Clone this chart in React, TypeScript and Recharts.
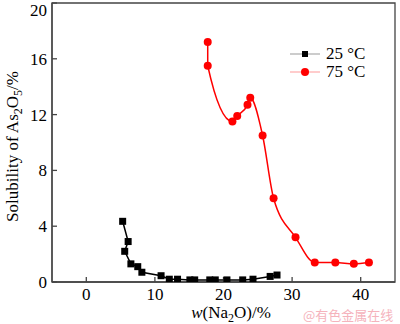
import React from 'react';
import { ComposedChart, Line, XAxis, YAxis, ReferenceArea } from 'recharts';

// 25 °C series
const naO25 = [5.3, 6.1, 5.6, 6.5, 7.5, 8.1, 10.9, 12.1, 13.3, 15.1, 15.8, 18.0, 18.8, 20.5, 22.8, 24.3, 26.8, 27.8];
const sol25 = [4.35, 2.9, 2.2, 1.3, 1.1, 0.7, 0.45, 0.2, 0.2, 0.15, 0.15, 0.15, 0.15, 0.15, 0.15, 0.2, 0.4, 0.5];
// 75 °C series
const naO75 = [17.7, 17.7, 21.3, 22.0, 23.5, 23.9, 25.7, 27.3, 30.5, 33.3, 36.3, 39.0, 41.2];
const sol75 = [17.2, 15.5, 11.5, 11.9, 12.7, 13.2, 10.5, 6.0, 3.2, 1.4, 1.4, 1.3, 1.4];

const xTicks = [0, 10, 20, 30, 40];
const yTicks = [0, 4, 8, 12, 16, 20];
const seriesNames = ['25 °C', '75 °C'];
const watermark = '@有色金属在线';

const data25 = naO25.map((x, i) => ({ x, y: sol25[i] }));
const data75 = naO75.map((x, i) => ({ x, y: sol75[i] }));

const SERIF = '"Liberation Serif", "DejaVu Serif", serif';
const AXIS = '#444';

const YTitle = (props: any) => {
  const vb = props.viewBox || { x: 0, y: 3, width: 52, height: 279 };
  const cy = vb.y + vb.height / 2 + 4;
  return (
    <text
      transform={`translate(18, ${cy}) rotate(-90)`}
      textAnchor="middle"
      fontFamily={SERIF}
      fontSize={17}
      fill="#000"
    >
      Solubility of As<tspan dy={4} fontSize={12}>2</tspan>
      <tspan dy={-4}>O</tspan>
      <tspan dy={4} fontSize={12}>5</tspan>
      <tspan dy={-4}>/%</tspan>
    </text>
  );
};

const XTitle = () => (
  <text x={231} y={318} textAnchor="middle" fontFamily={SERIF} fontSize={17} fill="#000">
    <tspan fontStyle="italic">w</tspan>(Na<tspan dy={4} fontSize={12}>2</tspan>
    <tspan dy={-4}>O)/%</tspan>
  </text>
);

const SquareDot = (p: any) => {
  const { cx, cy, index } = p;
  if (cx == null || cy == null) return <g key={`s${index}`} />;
  return <rect key={`s${index}`} x={cx - 3.5} y={cy - 3.5} width={7} height={7} fill="#000" />;
};

const LegendBox = () => (
  <div
    style={{
      position: 'absolute',
      left: 288,
      top: 45,
      fontFamily: SERIF,
      fontSize: 17,
      color: '#000',
    }}
  >
    {seriesNames.map((name, i) => (
      <div key={name} style={{ display: 'flex', alignItems: 'center', height: 18 }}>
        <svg width={34} height={18} style={{ display: 'block' }}>
          <line x1={2} x2={32} y1={9} y2={9} stroke={i === 0 ? '#999' : '#f99'} strokeWidth={1} />
          {i === 0 ? (
            <rect x={14} y={6} width={6} height={6} fill="#000" />
          ) : (
            <circle cx={17} cy={9} r={4} fill="#ff0000" />
          )}
        </svg>
        <span style={{ marginLeft: 4, lineHeight: '18px', whiteSpace: 'pre' }}>{name}</span>
      </div>
    ))}
  </div>
);

export default function App() {
  return (
    <div style={{ position: 'absolute', left: 0, top: 0, width: 400, height: 324, background: '#fff' }}>
      <ComposedChart width={400} height={324} margin={{ top: 3, right: 5, bottom: 0, left: 0 }}>
        <XAxis
          type="number"
          dataKey="x"
          domain={[-5, 45]}
          ticks={xTicks}
          allowDataOverflow
          height={42}
          tickSize={-5}
          tickMargin={11}
          axisLine={{ stroke: AXIS, strokeWidth: 1.3 }}
          tickLine={{ stroke: AXIS, strokeWidth: 1.3 }}
          tick={{ fontSize: 17, fontFamily: SERIF, fill: '#000' }}
          label={<XTitle />}
        />
        <YAxis
          type="number"
          dataKey="y"
          domain={[0, 20]}
          ticks={yTicks}
          allowDataOverflow
          width={52}
          tickSize={-5}
          tickMargin={10}
          axisLine={{ stroke: AXIS, strokeWidth: 1.3 }}
          tickLine={{ stroke: AXIS, strokeWidth: 1.3 }}
          tick={{ fontSize: 17, fontFamily: SERIF, fill: '#000' }}
          label={<YTitle />}
        />
        <ReferenceArea x1={-5} x2={45} y1={0} y2={20} fill="none" stroke={AXIS} strokeWidth={1.3} />
        <Line
          data={data25}
          dataKey="y"
          name={seriesNames[0]}
          type="linear"
          stroke="#000"
          strokeWidth={1.5}
          dot={SquareDot}
          activeDot={false}
          isAnimationActive={false}
        />
        <Line
          data={data75}
          dataKey="y"
          name={seriesNames[1]}
          type="monotone"
          stroke="#ff0000"
          strokeWidth={1.5}
          dot={{ r: 4, fill: '#ff0000', stroke: '#ff0000', strokeWidth: 0 }}
          activeDot={false}
          isAnimationActive={false}
        />
      </ComposedChart>
      <LegendBox />
      <div
        style={{
          position: 'absolute',
          left: 303,
          top: 306,
          fontFamily: '"Noto Sans CJK SC", sans-serif',
          fontSize: 13,
          color: '#f5b3bc',
          whiteSpace: 'nowrap',
          lineHeight: '18px',
        }}
      >
        {watermark}
      </div>
    </div>
  );
}
